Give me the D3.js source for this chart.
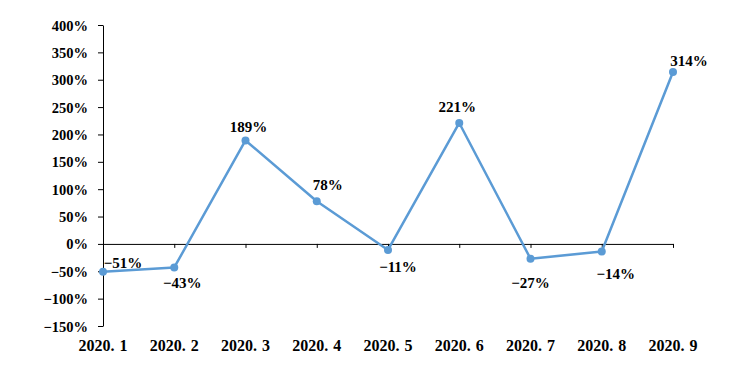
<!DOCTYPE html>
<html><head><meta charset="utf-8">
<script src="https://cdn.jsdelivr.net/npm/d3@7"></script>
<style>body{margin:0;background:#fff}svg text{font-family:"Liberation Serif","DejaVu Serif",serif;font-weight:bold;fill:#000}</style>
</head><body>
<svg id="c" width="749" height="366"></svg>
<script>
const categories = ["2020.1","2020.2","2020.3","2020.4","2020.5","2020.6","2020.7","2020.8","2020.9"];
const values = [-51,-43,189,78,-11,221,-27,-14,314];
const yTicks = [-150,-100,-50,0,50,100,150,200,250,300,350,400];
// label offsets (dx, dy) relative to point
const labelPos = [[20,-9],[8,15],[3,-14],[11,-16],[10,17],[-2,-16],[0,24],[14,22],[16,-11]];

const svg = d3.select("#c");
const x = d3.scalePoint().domain(categories).range([103,673]);
const y = d3.scaleLinear().domain([-150,400]).range([326,25]);

// y axis
const ya = svg.append("g").attr("transform","translate(103,0)")
  .call(d3.axisLeft(y).tickValues(yTicks).tickSize(5).tickSizeOuter(0).tickFormat(d=>d3.format("d")(d)+"%"));
ya.select(".domain").attr("stroke","#000");
ya.selectAll(".tick line").attr("stroke","#000");
ya.selectAll("text").attr("font-size",14.5).attr("dx",-7).attr("dy","0.35em").attr("y",0);

// x axis line at zero
const xa = svg.append("g").attr("transform",`translate(0,${y(0)})`)
  .call(d3.axisBottom(x).tickSize(4).tickSizeOuter(0).tickFormat(""));
xa.select(".domain").attr("stroke","#000");
xa.selectAll(".tick line").attr("stroke","#000");

// category labels at bottom
const cl = svg.append("g").selectAll("text").data(categories).join("text")
  .attr("x",d=>x(d)).attr("y",351).attr("text-anchor","middle").attr("font-size",16);
cl.append("tspan").text(d=>d.split(".")[0]+".");
cl.append("tspan").attr("dx",5).text(d=>d.split(".")[1]);

// line
const line = d3.line().x((d,i)=>x(categories[i])).y(d=>y(d));
svg.append("path").datum(values).attr("d",line).attr("fill","none")
  .attr("stroke","#5B9BD5").attr("stroke-width",2.5).attr("stroke-linejoin","round");
svg.append("g").selectAll("circle").data(values).join("circle")
  .attr("cx",(d,i)=>x(categories[i])).attr("cy",d=>y(d)).attr("r",4).attr("fill","#5B9BD5");

// data labels
svg.append("g").selectAll("text").data(values).join("text")
  .attr("x",(d,i)=>x(categories[i])+labelPos[i][0]).attr("y",(d,i)=>y(d)+labelPos[i][1])
  .attr("dy","0.35em").attr("text-anchor","middle").attr("font-size",15)
  .text(d=>d3.format("d")(d)+"%");
</script>
</body></html>
